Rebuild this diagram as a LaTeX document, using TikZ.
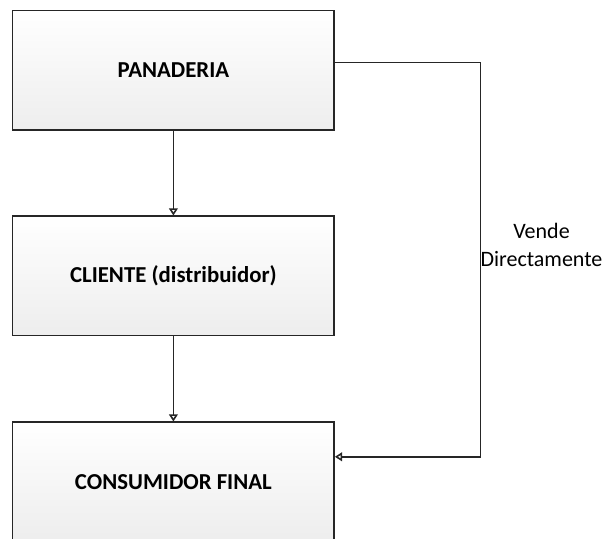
\documentclass[tikz,border=0pt]{standalone}
\usepackage{fontspec}
\setmainfont{Carlito}
\usetikzlibrary{arrows.meta}

\tikzset{
  caja/.style={draw=black!85, line width=0.8pt, top color=white, bottom color=black!7,
    minimum width=160.7pt, minimum height=59.7pt, font=\bfseries\fontsize{11.4}{13}\selectfont},
  flecha/.style={draw=black!85, line width=0.8pt, -{Triangle[open, length=3.6pt, width=4.4pt]}}
}

\begin{document}
\begin{tikzpicture}[x=0.5pt, y=-0.5pt]
      \useasboundingbox (0,0) rectangle (607,539);
      % cajas
      \node[caja] (panaderia) at (173.4,70.4) {PANADERIA};
      \node[caja] (cliente) at (173.4,276) {CLIENTE (distribuidor)};
      \node[caja] (consumidor) at (173.4,482) {CONSUMIDOR FINAL};
      % flechas
      \draw[flecha] (panaderia) -- (cliente);
      \draw[flecha] (cliente) -- (consumidor);
      \draw[flecha] ([yshift=3.85pt]panaderia.east) -- ++(145.5,0) |- ([yshift=12.6pt]consumidor.east);
      \node[align=center, font=\fontsize{11}{14.3}\selectfont] (vende) at (541.5,245) {Vende\\Directamente};
\end{tikzpicture}
\end{document}
